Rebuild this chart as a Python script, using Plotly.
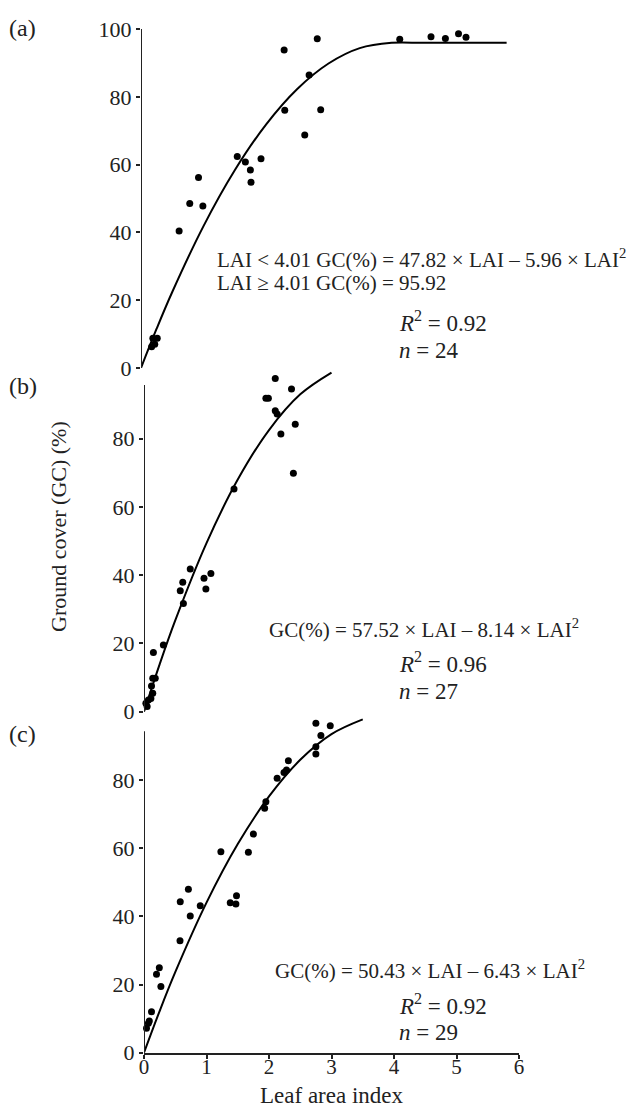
import plotly.graph_objects as go

# ---------------- data ----------------
# Panel (a)
a_lai = [0.17, 0.19, 0.22, 0.26, 0.61, 0.78, 0.92, 0.99, 1.54, 1.67, 1.75, 1.76,
         1.92, 2.29, 2.30, 2.62, 2.69, 2.82, 2.875, 4.14, 4.64, 4.87, 5.08, 5.20]
a_gc = [6.3, 8.8, 7.0, 8.8, 40.4, 48.5, 56.2, 47.8, 62.4, 60.8, 58.4, 54.8,
        61.7, 93.8, 76.0, 68.7, 86.4, 97.1, 76.2, 97.0, 97.7, 97.2, 98.6, 97.6]
a_fit_lai = [0, 0.25, 0.5, 1.0, 1.5, 2.0, 2.5, 3.0, 3.5, 4.01, 4.5, 5.0, 5.85]
a_fit_gc = [0, 11.58, 22.42, 41.86, 58.32, 71.80, 82.30, 89.82, 94.36, 95.92, 95.92, 95.92, 95.92]

# Panel (b)
b_lai = [0.03, 0.05, 0.07, 0.11, 0.14, 0.12, 0.14, 0.18, 0.15, 0.31, 0.58, 0.62, 0.63,
         0.74, 0.96, 0.99, 1.07, 1.44, 1.95, 1.99, 2.10, 2.10, 2.13, 2.19, 2.36, 2.42, 2.39]
b_gc = [2.5, 1.5, 3.4, 3.9, 5.4, 7.5, 9.8, 9.8, 17.3, 19.5, 35.4, 37.9, 31.7,
        41.8, 39.1, 35.9, 40.5, 65.2, 91.8, 91.8, 97.6, 88.1, 87.2, 81.3, 94.5, 84.2, 69.8]
b_fit_lai = [0, 0.25, 0.5, 1.0, 1.5, 2.0, 2.5, 3.0]
b_fit_gc = [0, 13.87, 26.73, 49.38, 67.97, 82.48, 92.93, 99.30]

# Panel (c)
c_lai = [0.04, 0.07, 0.085, 0.12, 0.20, 0.245, 0.27, 0.576, 0.58, 0.71, 0.74, 0.90,
         1.23, 1.38, 1.47, 1.48, 1.67, 1.75, 1.93, 1.95, 2.13, 2.24, 2.28, 2.31,
         2.75, 2.75, 2.83, 2.75, 2.98]
c_gc = [7.2, 8.6, 9.3, 12.0, 23.0, 24.9, 19.4, 32.8, 44.3, 47.9, 40.1, 43.1,
        58.9, 44.0, 43.6, 46.0, 58.8, 64.1, 71.7, 73.6, 80.5, 82.2, 82.9, 85.6,
        87.6, 89.7, 93.0, 96.6, 95.9]
c_fit_lai = [0, 0.25, 0.5, 1.0, 1.5, 2.0, 2.5, 3.0, 3.5]
c_fit_gc = [0, 12.21, 23.61, 44.0, 61.18, 75.14, 85.89, 93.42, 97.74]

x_ticks = [0, 1, 2, 3, 4, 5, 6]
a_yticks = [0, 20, 40, 60, 80, 100]
bc_yticks = [0, 20, 40, 60, 80]

# ---------------- figure ----------------
W, H = 627, 1111
FONT = "Liberation Serif"
INK = "#222"


def px_x(p):
    return p / W


def px_y(p):
    return 1 - p / H


fig = go.Figure()

panels = [
    ("x", "y", a_lai, a_gc, a_fit_lai, a_fit_gc),
    ("x2", "y2", b_lai, b_gc, b_fit_lai, b_fit_gc),
    ("x3", "y3", c_lai, c_gc, c_fit_lai, c_fit_gc),
]
for xr, yr, lx, gy, fx, fy in panels:
    fig.add_trace(go.Scatter(x=fx, y=fy, xaxis=xr, yaxis=yr, mode="lines",
                             line=dict(color="black", width=2, shape="spline", smoothing=1),
                             showlegend=False, hoverinfo="skip"))
    fig.add_trace(go.Scatter(x=lx, y=gy, xaxis=xr, yaxis=yr, mode="markers",
                             marker=dict(color="black", size=7),
                             showlegend=False, cliponaxis=False))

tickfont = dict(family=FONT, size=22, color=INK)
yaxis_common = dict(range=[0, 100], showgrid=False, zeroline=False, showline=False,
                    ticks="outside", ticklen=4, tickwidth=1.5, tickcolor=INK,
                    tickfont=tickfont, fixedrange=True, automargin=False)
xhidden = dict(range=[0, 6], visible=False, fixedrange=True)

fig.update_layout(
    width=W, height=H, autosize=False,
    margin=dict(l=0, r=0, t=0, b=0, pad=0, autoexpand=False),
    paper_bgcolor="white", plot_bgcolor="rgba(0,0,0,0)",
    xaxis=dict(xhidden, domain=[px_x(141), px_x(516)], anchor="y"),
    xaxis2=dict(xhidden, domain=[px_x(144), px_x(519)], anchor="y2"),
    xaxis3=dict(range=[0, 6], domain=[px_x(144), px_x(519)], anchor="y3",
                showgrid=False, zeroline=False, showline=True, linecolor=INK, linewidth=2,
                ticks="outside", ticklen=4, tickwidth=1.5, tickcolor=INK,
                tickvals=x_ticks, ticktext=[str(t) for t in x_ticks],
                tickfont=dict(family=FONT, size=21, color=INK),
                ticklabelstandoff=-10, fixedrange=True, automargin=False),
    yaxis=dict(yaxis_common, domain=[px_y(368), px_y(29)], anchor="x",
               tickvals=a_yticks, ticktext=[str(t) for t in a_yticks]),
    yaxis2=dict(yaxis_common, domain=[px_y(711.7), px_y(370.2)], anchor="x2",
                tickvals=bc_yticks, ticktext=[str(t) for t in bc_yticks]),
    yaxis3=dict(yaxis_common, domain=[px_y(1052.7), px_y(711.7)], anchor="x3",
                tickvals=bc_yticks, ticktext=[str(t) for t in bc_yticks]),
)

# vertical axis lines
for xr, yr, top in [("x", "y", 100), ("x2", "y2", 95.7), ("x3", "y3", 94.3)]:
    fig.add_shape(type="line", xref=xr, yref=yr, x0=0, x1=0, y0=0, y1=top,
                  line=dict(color=INK, width=2))

eqfont = dict(family=FONT, size=21, color=INK)
stfont = dict(family=FONT, size=23, color=INK)
ann = []


def add(text, xr, yr, x, y, anchor="left", font=eqfont, angle=0, yanchor="middle"):
    ann.append(dict(text=text, xref=xr, yref=yr, x=x, y=y, xanchor=anchor,
                    yanchor=yanchor, showarrow=False, font=font, textangle=angle))


# panel (a)
add("LAI &lt; 4.01 GC(%) = 47.82 × LAI – 5.96 × LAI<sup>2</sup>", "x", "y", 1.18, 32.4)
add("LAI ≥ 4.01 GC(%) = 95.92", "x", "y", 1.18, 25.1)
add("<i>R</i><sup>2</sup> = 0.92", "x", "y", 4.09, 13.6, font=stfont)
add("<i>n</i> = 24", "x", "y", 4.09, 5.3, font=stfont)
# panel (b)
add("GC(%) = 57.52 × LAI – 8.14 × LAI<sup>2</sup>", "x2", "y2", 1.97, 24.5)
add("<i>R</i><sup>2</sup> = 0.96", "x2", "y2", 4.04, 14.3, font=stfont)
add("<i>n</i> = 27", "x2", "y2", 4.04, 5.8, font=stfont)
# panel (c)
add("GC(%) = 50.43 × LAI – 6.43 × LAI<sup>2</sup>", "x3", "y3", 2.06, 24.3)
add("<i>R</i><sup>2</sup> = 0.92", "x3", "y3", 4.04, 14.0, font=stfont)
add("<i>n</i> = 29", "x3", "y3", 4.04, 5.8, font=stfont)

lab = dict(family=FONT, size=24, color=INK)
add("(a)", "paper", "paper", px_x(7), px_y(28), font=lab)
add("(b)", "paper", "paper", px_x(7), px_y(386), font=lab)
add("(c)", "paper", "paper", px_x(7), px_y(734), font=lab)

add("Ground cover (GC) (%)", "paper", "paper", px_x(58), px_y(527), anchor="center",
    font=dict(family=FONT, size=22, color=INK), angle=-90)
add("Leaf area index", "paper", "paper", px_x(332), px_y(1110), anchor="center",
    font=dict(family=FONT, size=23, color=INK), yanchor="bottom")

fig.update_layout(annotations=ann)

fig.write_html("out.html", config={"displayModeBar": False},
               post_script="document.body.style.margin='0';"
                           "document.body.style.overflow='hidden';")
